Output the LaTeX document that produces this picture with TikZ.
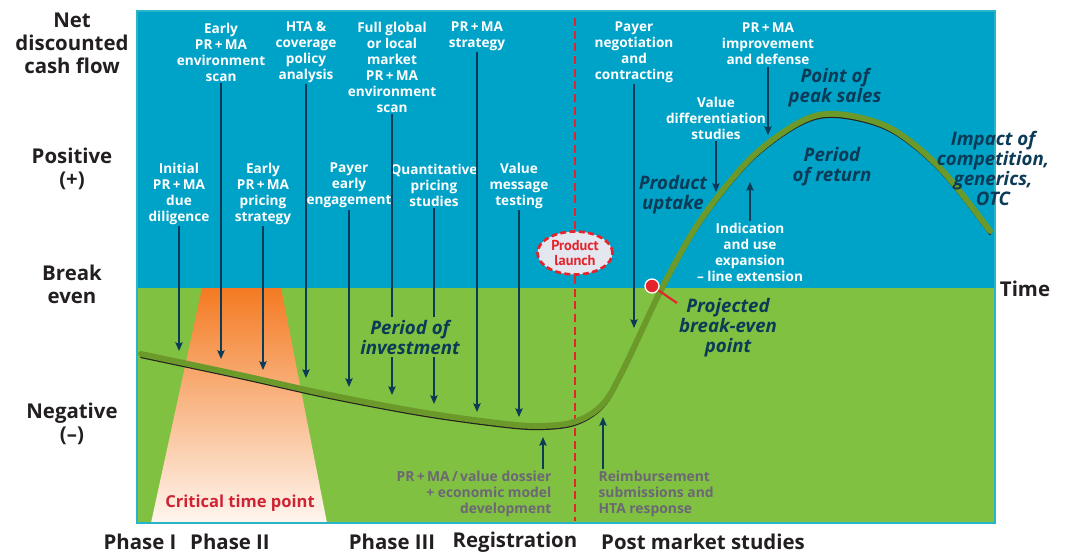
\documentclass[tikz,border=0pt]{standalone}
\usepackage{fontspec}
\setmainfont{Open Sans}
\newfontfamily\narrowfont{PT Sans}
\usetikzlibrary{arrows.meta,shapes.geometric}

\definecolor{skyband}{HTML}{00A3C8}
\definecolor{grassband}{HTML}{80C141}
\definecolor{framecyan}{HTML}{2AB4CA}
\definecolor{curvegreen}{HTML}{6B9A2B}
\definecolor{inknavy}{HTML}{0C3B57}
\definecolor{notegray}{HTML}{6C6775}
\definecolor{launchred}{HTML}{E5232A}
\definecolor{critred}{HTML}{CF2333}
\definecolor{launchfill}{HTML}{E4E6F0}
\definecolor{axisblack}{HTML}{231F20}
\definecolor{hottop}{HTML}{F47A22}
\definecolor{hotmid}{HTML}{F8A671}
\definecolor{hotbot}{HTML}{FEF6EF}

\begin{document}
\begin{tikzpicture}[x=0.75pt,y=-0.75pt,
  act/.style={text=white, font=\bfseries\fontsize{10.2}{12}\selectfont, align=center, inner sep=1pt},
  stage/.style={text=inknavy, font=\bfseries\itshape\fontsize{14}{15}\selectfont, align=center, inner sep=1pt},
  later/.style={text=notegray, font=\bfseries\fontsize{10.4}{12}\selectfont, inner sep=1pt},
  axis/.style={text=axisblack, font=\bfseries\fontsize{15.3}{17.25}\selectfont, align=center},
  feed/.style={draw=inknavy, line width=1pt, -{Stealth[length=6.5pt,width=5.5pt,inset=1pt]}},
]
\useasboundingbox (0,0) rectangle (1065,554);
% background bands and frame
\fill[skyband] (137,11) rectangle (995,288);
\fill[grassband] (137,288) rectangle (995,523);
\shade[top color=hottop, middle color=hotmid, bottom color=hotbot]
  (202,288) -- (281,288) -- (327,523) -- (151,523) -- cycle;
\draw[framecyan, line width=1.1pt] (137,11) rectangle (995,523);
\node[text=critred, font=\bfseries\fontsize{12.4}{14}\selectfont] (crit) at (240,503) {Critical time point};

% axis labels
\node[axis] (ncf) at (72,43) {Net\\discounted\\cash flow};
\node[axis] (pos) at (72,168.5) {Positive\\(+)};
\node[axis] (be) at (72,284.5) {Break\\even};
\node[axis] (negv) at (72,424) {Negative\\(--)};
\node[axis] (time) at (1025,289) {Time};
\node[axis] (ph1) at (140,542) {Phase I};
\node[axis] (ph2) at (230,542) {Phase II};
\node[axis] (ph3) at (392,542) {Phase III};
\node[axis] (reg) at (515,542) {Registration};
\node[axis] (post) at (703,542) {Post market studies};

% launch line
\node[ellipse, draw=launchred, fill=launchfill, line width=2pt, dash pattern=on 4.5pt off 2.5pt,
  minimum width=75*0.75pt, minimum height=43*0.75pt, inner sep=0pt, text=launchred,
  font=\narrowfont\bfseries\fontsize{10.8}{11.8}\selectfont, align=center] (launch) at (575,253) {Product\\launch};
\coordinate (launch-top) at (575,18);
\coordinate (launch-bot) at (575,521);
\draw[launchred, line width=2.1pt, dash pattern=on 6pt off 3.5pt] (launch-top) -- (launch);
\draw[launchred, line width=2.1pt, dash pattern=on 6pt off 3.5pt] (launch) -- (launch-bot);

% cash flow curve, dark edge underneath
\def\cashpath{plot[smooth, tension=0.55] coordinates {(141,354) (240,375) (330,395) (420,412)
  (490,422) (535,426) (574,422) (603,404) (625,366) (662,288) (700,221) (750,159)
  (800,122) (837,114) (890,128) (940,168) (990,231)}}
\draw[axisblack, line width=1.7pt, line cap=round, shift={(0,3)}] \cashpath;
\draw[curvegreen, line width=4.4pt, line cap=round] \cashpath;

% activities above the curve
\node[act] (esc) at (221,52) {Early\\PR\,+\,MA\\environment\\scan};
\node[act] (hta) at (306,52) {HTA \&\\coverage\\policy\\analysis};
\node[act] (glob) at (392,67.5) {Full global\\or local\\market\\PR\,+\,MA\\environment\\scan};
\node[act] (strat) at (477,36) {PR\,+\,MA\\strategy};
\node[act] (nego) at (634,52) {Payer\\negotiation\\and\\contracting};
\node[act] (impr) at (768,44) {PR\,+\,MA\\improvement\\and defense};
\node[act] (vdiff) at (716,118) {Value\\differentiation\\studies};
\node[act] (dilig) at (179,193.5) {Initial\\PR\,+\,MA\\due\\diligence};
\node[act] (pric) at (263,193.5) {Early\\PR\,+\,MA\\pricing\\strategy};
\node[act] (engage) at (349,185.5) {Payer\\early\\engagement};
\node[act] (quant) at (434,185.5) {Quantitative\\pricing\\studies};
\node[act] (vmt) at (519,185.5) {Value\\message\\testing};
\node[act] (indic) at (750,252) {Indication\\and use\\expansion\\-- line extension};

\coordinate (dilig-tip) at (179,351);
\coordinate (esc-tip) at (221,359);
\coordinate (pric-tip) at (263,370);
\coordinate (hta-tip) at (306,378);
\coordinate (engage-tip) at (349,387);
\coordinate (glob-tip) at (392,395);
\coordinate (quant-tip) at (434,404);
\coordinate (strat-tip) at (477,412);
\coordinate (vmt-tip) at (519,417);
\coordinate (nego-tip) at (634,328);
\coordinate (vdiff-tip) at (716,192);
\coordinate (impr-tip) at (768,135);
\coordinate (indic-tip) at (750,182);
\foreach \a in {dilig,esc,pric,hta,engage,glob,quant,strat,vmt,nego,vdiff,impr,indic}
  \draw[feed] (\a) -- (\a-tip);

% submissions below the curve
\node[later, anchor=north east, align=right] (dossier) at (553,469) {PR\,+\,MA\,/\,value dossier\\+ economic model\\development};
\node[later, anchor=north west, align=left] (reimb) at (597,469) {Reimbursement\\submissions and\\HTA response};
\coordinate (dossier-tip) at (543,437);
\coordinate (reimb-tip) at (603,417);
\draw[feed] (dossier.north -| dossier-tip) -- (dossier-tip);
\draw[feed] (reimb.north -| reimb-tip) -- (reimb-tip);

% stages along the curve
\node[stage, fill=grassband, inner sep=2pt] (invest) at (410,337) {Period of\\investment};
\node[stage] (uptake) at (673,195) {Product\\uptake};
\node[stage] (peak) at (835,87.5) {Point of\\peak sales};
\node[stage] (ret) at (832,167) {Period\\of return};
\node[stage] (impact) at (993,168) {Impact of\\competition,\\generics,\\OTC};
\node[stage] (bep-lbl) at (728,328) {Projected\\break-even\\point};

% break-even marker
\coordinate (bep-end) at (677,303);
\node[circle, fill=launchred, draw=white, line width=1pt, minimum size=14*0.75pt, inner sep=0pt] (bep) at (652,286) {};
\draw[launchred, line width=1.6pt] (bep) -- (bep-end);
\end{tikzpicture}
\end{document}
